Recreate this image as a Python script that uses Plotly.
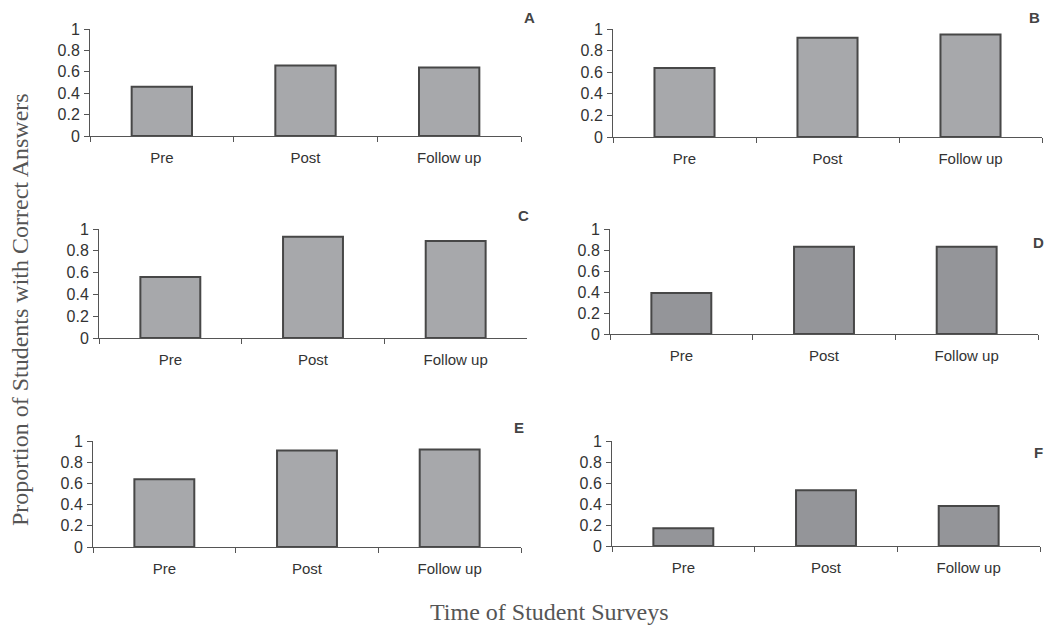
import plotly.graph_objects as go

# The page body has an 8px default margin, so the figure is offset by 8px.
OFF = 8
W, H = 1052 - OFF, 625 - OFF

categories = ["Pre", "Post", "Follow up"]
panel_labels = ["A", "B", "C", "D", "E", "F"]
values_A = [0.46, 0.66, 0.64]
values_B = [0.64, 0.92, 0.95]
values_C = [0.56, 0.93, 0.89]
values_D = [0.39, 0.83, 0.83]
values_E = [0.64, 0.91, 0.92]
values_F = [0.17, 0.53, 0.38]
y_ticks = [0, 0.2, 0.4, 0.6, 0.8, 1]

series = [values_A, values_B, values_C, values_D, values_E, values_F]
fills = ["#a7a8ab", "#a7a8ab", "#a7a8ab", "#949599", "#a7a8ab", "#949599"]


def px_x(x):
    return (x - OFF) / W


def px_y(y):
    return 1 - (y - OFF) / H


# screen-pixel boxes: (x0, x1, ytop(=1), ybottom(=0))
boxes = [
    (90, 521, 29, 136),
    (613, 1042, 29, 137),
    (99, 527, 229, 338),
    (610, 1038, 229, 334),
    (93, 521, 441, 547),
    (612, 1040, 441, 546),
]
label_pos = [(529, 17), (1034, 17), (523, 215), (1038, 242), (519, 427), (1038, 452)]

fig = go.Figure()
layout = {}
for i, (vals, fc, box) in enumerate(zip(series, fills, boxes)):
    n = "" if i == 0 else str(i + 1)
    x0, x1, yt, yb = box
    fig.add_trace(go.Bar(
        x=categories, y=vals, xaxis="x" + n, yaxis="y" + n,
        width=0.42, marker=dict(color=fc, line=dict(color="#474747", width=2)),
        showlegend=False,
    ))
    layout["xaxis" + n] = dict(
        domain=[px_x(x0), px_x(x1)], anchor="y" + n, type="category",
        range=[-0.5, 2.5], showline=True, linecolor="#555555", linewidth=1,
        ticks="outside", tickson="boundaries", ticklen=5, tickcolor="#555555",
        tickfont=dict(family="Liberation Sans, Arial", size=15, color="#333333"),
        ticklabelstandoff=8, showgrid=False, zeroline=False, fixedrange=True,
        automargin=False,
    )
    layout["yaxis" + n] = dict(
        domain=[px_y(yb), px_y(yt)], anchor="x" + n,
        range=[0, 1], tickvals=y_ticks, ticktext=[("%g" % v) for v in y_ticks],
        showline=True, linecolor="#555555", linewidth=1,
        ticks="outside", ticklen=5, tickcolor="#555555",
        tickfont=dict(family="Liberation Sans, Arial", size=16, color="#333333"),
        ticklabelstandoff=1, showgrid=False, zeroline=False, fixedrange=True,
        automargin=False,
    )

annotations = []
for lab, (px, py) in zip(panel_labels, label_pos):
    annotations.append(dict(
        text="<b>%s</b>" % lab, x=px_x(px), y=px_y(py), xref="paper", yref="paper",
        showarrow=False, xanchor="center", yanchor="middle",
        font=dict(family="Liberation Sans, Arial", size=15, color="#444444"),
    ))
annotations.append(dict(
    text="Proportion of Students with Correct Answers", x=px_x(20), y=px_y(310),
    xref="paper", yref="paper", showarrow=False, textangle=-90,
    xanchor="center", yanchor="middle",
    font=dict(family="Liberation Serif, Times New Roman", size=24, color="#555555"),
))
annotations.append(dict(
    text="Time of Student Surveys", x=px_x(549), y=px_y(612),
    xref="paper", yref="paper", showarrow=False,
    xanchor="center", yanchor="middle",
    font=dict(family="Liberation Serif, Times New Roman", size=24, color="#555555"),
))

fig.update_layout(
    template="none",
    width=W, height=H, margin=dict(l=0, r=0, t=0, b=0, autoexpand=False),
    paper_bgcolor="white", plot_bgcolor="white",
    annotations=annotations, **layout,
)
fig.write_html("out.html", include_plotlyjs=True)
